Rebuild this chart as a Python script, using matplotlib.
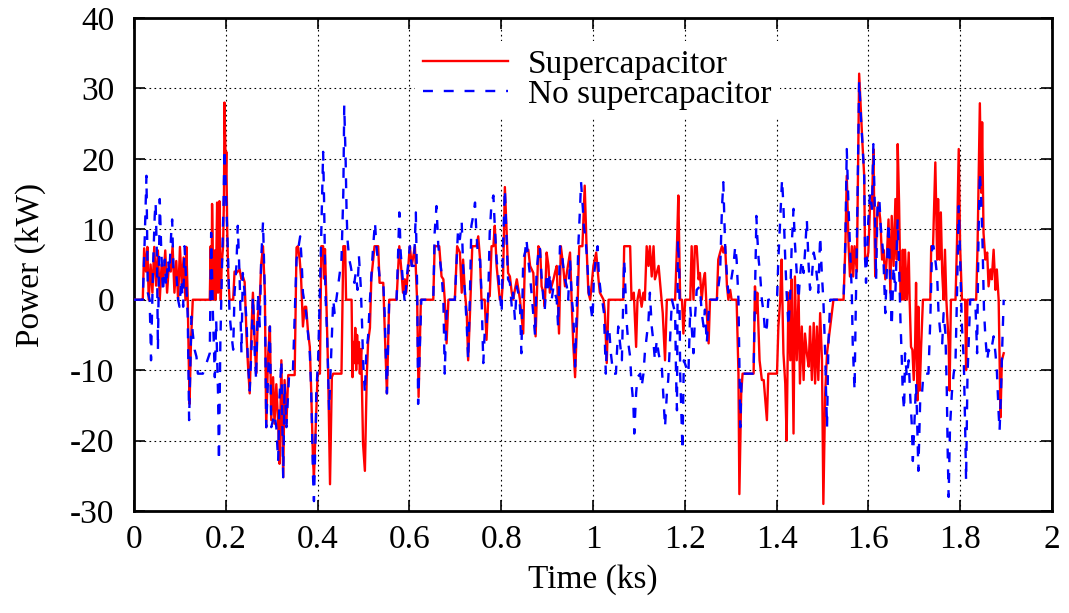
import matplotlib
matplotlib.use("Agg")
import matplotlib.pyplot as plt

plt.rcParams['font.family'] = ['Liberation Serif', 'DejaVu Serif']
plt.rcParams['axes.unicode_minus'] = False

# --- Supercapacitor (red, solid): time in ks, power in kW ---
t_sc = [0, 0.019, 0.022, 0.026, 0.029, 0.032, 0.036, 0.040, 0.044, 0.048, 0.052, 0.056, 0.060,
        0.064, 0.068, 0.072, 0.076, 0.080, 0.084, 0.088, 0.092, 0.096, 0.100, 0.104, 0.108, 0.112,
        0.114, 0.117, 0.119, 0.121, 0.124, 0.128, 0.165, 0.167, 0.169, 0.170, 0.173, 0.176, 0.178,
        0.181, 0.183, 0.185, 0.186, 0.189, 0.191, 0.194, 0.196, 0.197, 0.200, 0.201, 0.203, 0.205,
        0.208, 0.216, 0.219, 0.223, 0.230, 0.234, 0.237, 0.241, 0.245, 0.248, 0.252, 0.256, 0.259,
        0.263, 0.266, 0.270, 0.274, 0.277, 0.281, 0.285, 0.288, 0.292, 0.296, 0.299, 0.303, 0.306,
        0.310, 0.314, 0.317, 0.321, 0.325, 0.328, 0.332, 0.336, 0.350, 0.354, 0.357, 0.361, 0.364,
        0.368, 0.372, 0.375, 0.379, 0.383, 0.386, 0.390, 0.392, 0.397, 0.400, 0.405, 0.408, 0.412,
        0.414, 0.416, 0.419, 0.423, 0.427, 0.431, 0.434, 0.452, 0.456, 0.460, 0.462, 0.474, 0.476,
        0.478, 0.480, 0.482, 0.484, 0.486, 0.488, 0.490, 0.492, 0.495, 0.499, 0.503, 0.507, 0.510,
        0.514, 0.517, 0.524, 0.532, 0.535, 0.543, 0.546, 0.551, 0.556, 0.572, 0.578, 0.583, 0.586,
        0.590, 0.593, 0.601, 0.605, 0.612, 0.617, 0.620, 0.625, 0.652, 0.655, 0.665, 0.670, 0.674,
        0.677, 0.681, 0.685, 0.699, 0.704, 0.710, 0.714, 0.717, 0.721, 0.725, 0.728, 0.732, 0.737,
        0.746, 0.750, 0.754, 0.757, 0.764, 0.768, 0.772, 0.775, 0.779, 0.783, 0.786, 0.790, 0.797,
        0.801, 0.804, 0.808, 0.812, 0.815, 0.819, 0.823, 0.826, 0.834, 0.841, 0.848, 0.852, 0.859,
        0.863, 0.870, 0.875, 0.881, 0.885, 0.888, 0.892, 0.895, 0.899, 0.903, 0.906, 0.914, 0.917,
        0.921, 0.926, 0.930, 0.935, 0.939, 0.943, 0.950, 0.954, 0.957, 0.961, 0.966, 0.970, 0.977,
        0.982, 0.986, 0.990, 0.994, 1.001, 1.007, 1.012, 1.015, 1.023, 1.026, 1.030, 1.034, 1.066,
        1.068, 1.081, 1.084, 1.089, 1.094, 1.097, 1.101, 1.106, 1.110, 1.113, 1.117, 1.121, 1.124,
        1.128, 1.132, 1.135, 1.143, 1.148, 1.152, 1.157, 1.161, 1.179, 1.183, 1.186, 1.190, 1.194,
        1.197, 1.201, 1.212, 1.215, 1.219, 1.222, 1.226, 1.230, 1.233, 1.237, 1.241, 1.244, 1.248,
        1.252, 1.255, 1.270, 1.273, 1.277, 1.281, 1.284, 1.288, 1.292, 1.295, 1.299, 1.302, 1.313,
        1.317, 1.319, 1.323, 1.326, 1.350, 1.353, 1.356, 1.358, 1.363, 1.368, 1.372, 1.375, 1.379,
        1.382, 1.401, 1.404, 1.408, 1.411, 1.415, 1.419, 1.422, 1.426, 1.430, 1.433, 1.437, 1.440,
        1.444, 1.448, 1.451, 1.455, 1.459, 1.462, 1.466, 1.470, 1.473, 1.477, 1.481, 1.484, 1.488,
        1.491, 1.495, 1.499, 1.502, 1.506, 1.510, 1.517, 1.524, 1.546, 1.550, 1.553, 1.557, 1.560,
        1.564, 1.567, 1.570, 1.575, 1.580, 1.584, 1.587, 1.591, 1.593, 1.597, 1.600, 1.604, 1.608,
        1.611, 1.615, 1.619, 1.622, 1.626, 1.630, 1.633, 1.637, 1.640, 1.644, 1.648, 1.651, 1.655,
        1.659, 1.662, 1.664, 1.667, 1.670, 1.673, 1.675, 1.678, 1.680, 1.684, 1.688, 1.690, 1.693,
        1.696, 1.699, 1.702, 1.704, 1.707, 1.709, 1.712, 1.715, 1.719, 1.735, 1.737, 1.741, 1.746,
        1.750, 1.752, 1.755, 1.758, 1.761, 1.764, 1.767, 1.770, 1.775, 1.777, 1.780, 1.790, 1.793,
        1.797, 1.800, 1.804, 1.811, 1.813, 1.816, 1.835, 1.838, 1.843, 1.846, 1.848, 1.851, 1.855,
        1.859, 1.862, 1.866, 1.869, 1.873, 1.877, 1.880, 1.884, 1.888, 1.891, 1.895]
p_sc = [0, 0, 7.3, 4, 7.5, 0, 5, 1, 7.5, 2, 7, 0, 5,
        3, 7, 1, 5, 4, 7.6, 1, 5.5, 0, 7.5, 2, 6, 0,
        7.5, 0, -8, -14.8, -6, 0, 0, 7.6, 0, 13.6, 0, 7, 0,
        13.8, 1, 4, 14, 0, 5, 7.6, 15, 28, 18, 21, 10, 4,
        0, 0, 4, 3.8, 4.3, 2.9, 3.3, 2.5, -5, -9, -13.3, -4, 1,
        -6, -10.5, -2, 0, 5, 7.6, 1, -18.1, -8, -3.8, -17.1, -11, -17.6,
        -12, -17.6, -23.3, -8.6, -25.2, -11.4, -17.6, -10.7, -10.7, 7.4, 7.6, 5.7, 3,
        -3.8, -1, -1, -4.5, -6.7, -12.9, -22.9, -25.2, -16, -10.5, -10.5, 7.6, 7.6,
        3, 7.2, 0, -10.5, -26.2, -11, -10.5, -10.5, 7.6, 7.6, 0, 0, -11,
        -6, -9, -4, -10, -5, -9, -6, -10.5, -7, -20.5, -24.3, -11, -6,
        -4, 3, 7.6, 7.6, 2.4, 2.4, -3.8, -13.3, 0, 0, 7.6, 3.8, 1,
        2.9, 1, 7.6, 4.8, 7.6, -0.5, -13.8, 0, 0, 7.6, 7.6, 3.3, 2.9,
        0, -6.2, 0, 0, 7.6, 6.7, 1, 5.7, 1, -1.9, -8.6, -1.9, 7.6,
        7.6, 9, 5.7, 0, 0, -5.7, 0.5, 0.5, 7.6, 7.6, 10.5, 4.8, 0,
        0, 2.9, 16, 9.5, 3.8, 3.3, 1, 0, 2.9, 0, -4.8, 6.7, 7.1,
        4.8, 3.8, -5.2, 7.6, 7.1, 1.9, 1, -1, 6.7, 4.8, 1, 2.9, 3.8,
        4.8, -4.8, 7.6, 4.8, 1.9, 3.8, 6.7, -1, -6.2, -11, -1.9, 7.6, 7.6,
        16.2, 7.6, 1, 0, 4.8, 6.7, 2.9, 1, 0, -1.9, -9, 0, 0,
        7.6, 7.6, 0, 1, -6.7, 0, 1.4, -1, 1, 0, 7.6, 4.8, 7.6,
        3.3, 7.6, 2.9, 4.8, 1, -1.9, -8.6, 0, 0, 7.6, 14.8, 0, 0,
        -4.8, 0, 0, 7.6, 0, 7.6, 7.6, 2.9, 3.8, 0, 2.9, 3.8, -1.9,
        -6.2, 0, 0, 5.7, 6.7, 7.6, 6.7, 7.6, 1.9, 0, 1.4, 0, 0,
        -10.5, -27.6, -13.3, -10.5, -10.5, 1.9, -1.9, 1, -8.6, -11.4, -11.4, -13.8, -17.1,
        -10.5, -10.5, -3.8, 0, 5.7, -7.6, -11.9, -20, 1, -8.6, 2.9, -19, 3.3,
        -8.6, 1, -11.9, -3.8, -11.4, -4.8, -7.6, -9.5, -3.8, -11.4, -3.3, -11.9, -3.8,
        -11.4, -1.9, -8.6, -29, -13.3, -7.6, -3.8, 0, 0, 7.6, 17.6, 7.6, 3.3,
        7.6, 3.3, 7.6, 4, 32.1, 26.7, 22.4, 17.6, 5.7, 5.7, 6.7, 13.8, 13.3,
        21.4, 3.3, 11.4, 13.8, 11.4, 5.7, 7.1, 2.9, 5.7, 11.4, 1, 11.9, 4.8,
        14.3, 5.7, 22.1, 13.8, 1, 0, 7.1, 0, 7.1, 0, 6.7, 0, -6.7,
        -7.1, -11.4, -6.2, 2.4, -14.3, -1, -12.9, -6.7, 0, 0, 7.6, 7.6, 19.5,
        5.7, 14.3, 5.7, 12.4, 3.8, 0, 7.1, 0, -6.2, -12.9, 0, 0, 7.6,
        21.4, 7.6, 0, 0, -10, 0, 0, 7.6, 27.9, 15.2, 25.2, 9.5, 5.7,
        6.7, 1.9, 4.3, 2.9, 7.1, 1.4, 4.3, 0, -16.7, -8.6, -7.6]

# --- No supercapacitor (blue, dashed) ---
t_nosc = [0, 0.019, 0.023, 0.027, 0.030, 0.034, 0.037, 0.041, 0.045, 0.047, 0.050, 0.052, 0.056,
          0.059, 0.063, 0.067, 0.070, 0.074, 0.077, 0.081, 0.083, 0.086, 0.092, 0.096, 0.099, 0.103,
          0.107, 0.110, 0.114, 0.117, 0.120, 0.125, 0.128, 0.132, 0.136, 0.139, 0.150, 0.165, 0.168,
          0.172, 0.176, 0.179, 0.183, 0.185, 0.188, 0.192, 0.195, 0.197, 0.201, 0.205, 0.208, 0.212,
          0.216, 0.219, 0.223, 0.226, 0.230, 0.234, 0.237, 0.241, 0.245, 0.248, 0.252, 0.256, 0.259,
          0.263, 0.266, 0.270, 0.274, 0.277, 0.281, 0.285, 0.288, 0.296, 0.299, 0.306, 0.310, 0.314,
          0.317, 0.321, 0.325, 0.328, 0.332, 0.338, 0.346, 0.354, 0.362, 0.365, 0.368, 0.375, 0.383,
          0.386, 0.390, 0.392, 0.396, 0.397, 0.401, 0.405, 0.408, 0.412, 0.414, 0.417, 0.421, 0.425,
          0.429, 0.432, 0.434, 0.437, 0.452, 0.456, 0.458, 0.461, 0.463, 0.465, 0.469, 0.472, 0.476,
          0.480, 0.483, 0.487, 0.490, 0.494, 0.497, 0.499, 0.503, 0.506, 0.510, 0.514, 0.517, 0.521,
          0.525, 0.528, 0.535, 0.543, 0.546, 0.551, 0.556, 0.572, 0.575, 0.578, 0.581, 0.585, 0.590,
          0.594, 0.601, 0.605, 0.610, 0.614, 0.617, 0.619, 0.623, 0.626, 0.652, 0.655, 0.659, 0.663,
          0.670, 0.674, 0.677, 0.681, 0.685, 0.699, 0.703, 0.706, 0.710, 0.714, 0.717, 0.721, 0.725,
          0.728, 0.732, 0.735, 0.739, 0.743, 0.746, 0.750, 0.754, 0.757, 0.761, 0.764, 0.768, 0.772,
          0.775, 0.779, 0.783, 0.786, 0.790, 0.794, 0.797, 0.801, 0.804, 0.808, 0.812, 0.815, 0.819,
          0.823, 0.826, 0.830, 0.834, 0.837, 0.841, 0.844, 0.848, 0.852, 0.855, 0.859, 0.863, 0.866,
          0.870, 0.874, 0.877, 0.881, 0.884, 0.888, 0.892, 0.895, 0.899, 0.903, 0.906, 0.910, 0.914,
          0.917, 0.921, 0.924, 0.928, 0.932, 0.935, 0.939, 0.943, 0.946, 0.950, 0.954, 0.957, 0.961,
          0.964, 0.968, 0.972, 0.974, 0.978, 0.980, 0.984, 0.988, 0.991, 0.995, 0.999, 1.002, 1.006,
          1.010, 1.013, 1.017, 1.020, 1.024, 1.028, 1.031, 1.035, 1.039, 1.044, 1.050, 1.055, 1.063,
          1.066, 1.068, 1.071, 1.073, 1.077, 1.081, 1.084, 1.088, 1.090, 1.094, 1.097, 1.103, 1.106,
          1.110, 1.113, 1.117, 1.121, 1.124, 1.128, 1.132, 1.135, 1.139, 1.143, 1.146, 1.150, 1.153,
          1.157, 1.161, 1.164, 1.168, 1.172, 1.179, 1.181, 1.183, 1.185, 1.188, 1.190, 1.192, 1.195,
          1.198, 1.208, 1.212, 1.215, 1.219, 1.222, 1.226, 1.233, 1.237, 1.241, 1.244, 1.248, 1.252,
          1.255, 1.270, 1.277, 1.281, 1.284, 1.288, 1.292, 1.295, 1.299, 1.306, 1.310, 1.313, 1.317,
          1.319, 1.321, 1.324, 1.350, 1.353, 1.355, 1.356, 1.358, 1.361, 1.364, 1.368, 1.372, 1.375,
          1.379, 1.382, 1.401, 1.404, 1.408, 1.412, 1.415, 1.419, 1.422, 1.426, 1.430, 1.433, 1.437,
          1.440, 1.444, 1.448, 1.451, 1.455, 1.459, 1.462, 1.466, 1.470, 1.473, 1.477, 1.481, 1.484,
          1.488, 1.491, 1.495, 1.499, 1.502, 1.506, 1.508, 1.510, 1.513, 1.517, 1.546, 1.550, 1.553,
          1.557, 1.560, 1.564, 1.566, 1.570, 1.572, 1.575, 1.580, 1.584, 1.587, 1.591, 1.593, 1.595,
          1.600, 1.604, 1.608, 1.611, 1.615, 1.617, 1.620, 1.624, 1.627, 1.631, 1.633, 1.637, 1.640,
          1.644, 1.648, 1.651, 1.655, 1.659, 1.662, 1.664, 1.667, 1.670, 1.673, 1.675, 1.678, 1.680,
          1.684, 1.688, 1.691, 1.695, 1.697, 1.700, 1.704, 1.706, 1.709, 1.713, 1.717, 1.720, 1.731,
          1.735, 1.739, 1.742, 1.746, 1.750, 1.753, 1.757, 1.761, 1.764, 1.768, 1.771, 1.773, 1.775,
          1.778, 1.782, 1.786, 1.790, 1.793, 1.797, 1.801, 1.804, 1.808, 1.811, 1.813, 1.816, 1.822,
          1.833, 1.837, 1.840, 1.843, 1.846, 1.849, 1.852, 1.855, 1.859, 1.862, 1.866, 1.869, 1.873,
          1.877, 1.880, 1.884, 1.886, 1.889, 1.892, 1.895]
p_nosc = [0, 0, 8.1, 17.6, 1, 0, -8.6, 3.8, 11.9, 13.8, 5.7, -7.1, 14.3,
          7.6, 1, 5.7, 1.9, 5.7, 3.8, 9.5, 11.4, 3.8, 3.8, 0, -1, 2.9,
          -1, 7.6, 1.9, -2.4, -17.1, -2.4, -4.8, -7.1, -8.1, -10.5, -10.5, -7.6, 9.5,
          -2.4, -11, -2.9, -13.3, -22.9, -6.2, 5.7, 13.8, 21.4, 13.8, 5.7, -1.9, -4.8,
          -7.1, 1, 4.8, 10.5, 3.3, -7.6, 3.8, 1, -2.9, -8.6, -12.9, -6.7, 0.5,
          -7.6, -11.4, 1, -3.8, 5.7, 11, 1, -18.1, -3.8, -18.1, -16.2, -18.1, -22.9,
          -13.8, -8.6, -25.2, -11.9, -18.1, -10.5, -10.5, 5.7, 9, 5.7, 1, -1.9, -7.6,
          -12.9, -25.2, -28.6, -18.1, -13.3, -8.6, 1, 9.5, 21, 14.3, 1, -5.7, -15.7,
          -8.6, -2.9, 0, -1.9, 5.7, 15.2, 27.6, 20, 12.9, 8.6, 5.7, 4.8, 3.3,
          2.4, 3.8, 1.4, 6.2, 1.9, -3.8, -8.6, -13.3, -7.6, -5.2, 0, 3.3, 7.6,
          11, 7.6, 3.3, 2.4, -1.9, -13.3, 0, 0, 5.7, 12.4, 6.7, 3.3, -0.5,
          2.9, 7.6, 4.8, 4.8, 12.4, 1, -14.8, -6.2, 0, 0, 9.5, 13.3, 7.6,
          3.8, 0, -10.5, -1.9, 0, 0, 5.7, 10, 8.6, 11, 4.8, 1, -3.8,
          -8.6, 1, 10.5, 11.9, 13.8, 9.5, 5.7, 5.7, 1, -9, -4.8, -3.8, 1,
          9.5, 13.8, 14.8, 10.5, 5.7, 3.3, 1, -1.9, 7.6, 15.7, 8.1, 2.9, 2.4,
          -1, 1, -2.9, 1.9, 1, -1, -7.6, 5.7, 6.7, 8.6, 5.7, 3.3, 1,
          -1.9, -5.2, 3.8, 6.7, 7.6, 3.3, 0, -1.4, 3.8, 1, 3.8, 0, 1.9,
          1, 0, -3.8, 7.6, 7.1, 4.8, 2.9, 1.9, 0, 5.7, 0, -1.9, -9.5,
          -2.9, 7.6, 13.3, 16.7, 12.9, 10.5, 8.6, 4.8, 1, -1, -2.9, 3.3, 5.7,
          7.6, 3.3, 1, 0, -1.9, -10.5, -4.8, -3.8, -7.6, -10.5, -10.5, -3.8, -8.6,
          0, 5.7, 1, -2.9, -6.2, -8.1, -11.9, -14.8, -19, -13.3, -11, -10.5, -12.4,
          -10.5, -7.6, -5.2, -2.9, 1, -3.8, -6.2, -8.6, -5.7, -7.6, -8.6, -9.5, -13.3,
          -18.1, -13.3, -11.4, -5.7, 0, -1.9, -10.5, -15.7, 8.6, 4, -10.5, -15, -21.4,
          -8.6, -10.5, -1, -3.8, -7.6, -2.9, 1.4, 1.9, -1.9, -3.8, -1.4, -6.2, -1.9,
          0, 0, 3.8, 12.9, 16.7, 7.6, 3.3, 1, 1.9, 4.8, 7.6, 5.7, 0,
          -8.6, -18.1, -10.5, -10.5, 1, 7.6, 11.9, 9, 5.7, 3.8, 0, -1.9, -4.8,
          -3.8, 0, 0, 5.7, 11.4, 17.1, 13.3, 5.7, 1, -3.8, 1, 7.6, 12.9,
          8.1, 3.8, 0, 3.3, 5.7, 3.8, 6.7, 11.4, 4.8, 1.4, 3.3, 6.7, 5.7,
          3.3, 1, 9, 3.3, 0, -7.6, -13.3, -18.1, -6.2, 0, 0, 8.6, 21.4,
          12.9, 7.6, 1, -6.2, -12.9, -3.8, 8, 31, 25.7, 22.4, 17.6, 5.7, 2.4,
          11.4, 15.2, 12.9, 22.1, 10.5, 2.9, 13.3, 14.3, 10.5, 7.6, 5.7, -1.9, 3.8,
          11, 1.9, -3.8, 4.8, 1, 7.6, 11.4, 4.8, -2.9, -8.6, -13.3, -15.7, -7.6,
          -11, -8.6, -13.3, -18.1, -22.9, -18.1, -11.9, -16.2, -24.3, -14.3, -13.3, -10.5, -10.5,
          -2.9, 7.6, 7.6, 5.7, 3.3, -1.9, -4.8, -6.2, -1.9, -4.8, -12.9, -21.9, -28,
          -18.1, -13.3, -10.5, -8.6, 0, 13.3, 3.8, -3.8, -8.6, -18.1, -25.7, -11, 0,
          0, -7.6, 8.6, 18.1, 14.3, 7.6, -1.4, -5.2, -8.6, -7.1, -7.6, -6.7, -5.2,
          -7.6, -10, -16.2, -18.6, -13.3, -6.2, 0]

fig = plt.figure(figsize=(10.69, 6.13), dpi=100)
ax = fig.add_axes([0.1254, 0.1664, 0.8586, 0.8042])

ax.plot(t_sc, p_sc, color='#ff0000', lw=1.7, label='Supercapacitor', zorder=3)
ax.plot(t_nosc, p_nosc, color='#0000ff', lw=1.7, dashes=(4.2, 4.6), label='No supercapacitor', zorder=4)

ax.set_xlim(0, 2)
ax.set_ylim(-30, 40)
ax.set_xticks([0, 0.2, 0.4, 0.6, 0.8, 1, 1.2, 1.4, 1.6, 1.8, 2])
ax.set_xticklabels(['0', '0.2', '0.4', '0.6', '0.8', '1', '1.2', '1.4', '1.6', '1.8', '2'])
ax.set_yticks(range(-30, 41, 10))

ax.grid(True, color='black', linestyle=(0, (1.5, 3)), lw=0.8)
ax.tick_params(direction='in', length=8, width=1.2, top=True, right=True, labelsize=24)
ax.tick_params(axis='x', pad=10)
ax.tick_params(axis='y', pad=14)
for s in ax.spines.values():
    s.set_linewidth(2)

ax.set_xlabel('Time (ks)', fontsize=24, labelpad=6)
ax.set_ylabel('Power (kW)', fontsize=24, labelpad=17)

leg = ax.legend(loc='upper left', bbox_to_anchor=(0.306, 0.954), fontsize=24,
                handlelength=2.55, frameon=True, fancybox=False, framealpha=1,
                borderpad=0.25, borderaxespad=0, labelspacing=0.0, handletextpad=0.6)
leg.get_frame().set_edgecolor('none')
leg.get_frame().set_facecolor('white')
leg.set_zorder(5)

fig.savefig('out.png', dpi=100)
